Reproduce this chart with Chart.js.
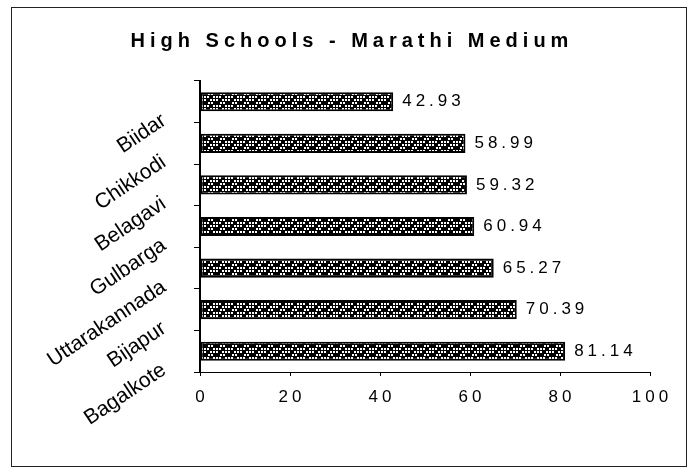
<!DOCTYPE html>
<html><head><meta charset="utf-8">
<script src="https://cdn.jsdelivr.net/npm/chart.js@4"></script>
<style>html,body{margin:0;padding:0;background:#fff}</style>
</head><body>
<canvas id="c" width="696" height="469"></canvas>
<script>
const titleText = 'High Schools - Marathi Medium';
const categories = ['Biidar', 'Chikkodi', 'Belagavi', 'Gulbarga', 'Uttarakannada', 'Bijapur', 'Bagalkote'];
const values = [42.93, 58.99, 59.32, 60.94, 65.27, 70.39, 81.14];
const xTicks = [0, 20, 40, 60, 80, 100];

const canvas = document.getElementById('c');

function makePattern() {
  const cells = ['1011', '0110', '1101'];
  const t = document.createElement('canvas');
  t.width = 12; t.height = 9;
  const g = t.getContext('2d');
  g.fillStyle = '#000'; g.fillRect(0, 0, 12, 9);
  g.fillStyle = '#fff';
  cells.forEach((r, y) => [...r].forEach((c, x) => {
    if (c === '1') g.fillRect(x * 3 + (y % 2), y * 3, 2, 2);
  }));
  return canvas.getContext('2d').createPattern(t, 'repeat');
}

const deco = {
  id: 'deco',
  beforeDraw(chart) {
    const ctx = chart.ctx;
    ctx.save();
    ctx.fillStyle = '#fff';
    ctx.fillRect(0, 0, chart.width, chart.height);
    ctx.strokeStyle = '#222';
    ctx.lineWidth = 1;
    ctx.strokeRect(11.5, 7.5, 675, 459);
    ctx.fillStyle = '#000';
    ctx.font = 'bold 20px "Liberation Sans", Arial, sans-serif';
    ctx.letterSpacing = '5px';
    ctx.textAlign = 'center';
    ctx.textBaseline = 'middle';
    ctx.fillText(titleText, 352, 41);
    ctx.restore();
  },
  afterDatasetsDraw(chart) {
    const ctx = chart.ctx;
    ctx.save();
    ctx.fillStyle = '#000';
    ctx.font = '17px "Liberation Sans", Arial, sans-serif';
    ctx.letterSpacing = '4px';
    ctx.textBaseline = 'middle';
    ctx.textAlign = 'left';
    const meta = chart.getDatasetMeta(0);
    meta.data.forEach((el, i) => {
      ctx.fillText(values[i].toFixed(2), el.x + 9, el.y);
    });
    ctx.textAlign = 'center';
    const xs = chart.scales.x;
    xTicks.forEach(v => {
      ctx.fillText(String(v), xs.getPixelForValue(v) + 2, 397);
    });
    ctx.restore();
  }
};

new Chart(canvas, {
  type: 'bar',
  data: {
    labels: categories,
    datasets: [{
      data: values,
      backgroundColor: makePattern(),
      borderColor: '#000',
      borderWidth: 2,
      borderSkipped: false,
      barPercentage: 0.46,
      categoryPercentage: 1
    }]
  },
  options: {
    indexAxis: 'y',
    responsive: false,
    animation: false,
    devicePixelRatio: 1,
    layout: { padding: { top: 81, right: 46, left: 0, bottom: 0 } },
    plugins: { legend: { display: false }, title: { display: false }, tooltip: { enabled: false } },
    scales: {
      x: {
        min: 0, max: 100,
        ticks: { display: false, stepSize: 20 },
        grid: { display: true, drawOnChartArea: false, tickLength: 4, color: '#000' },
        border: { display: true, color: '#000', width: 1 },
        afterFit(s) { s.height = 97; }
      },
      y: {
        ticks: {
          color: '#000',
          font: { family: '"Liberation Sans", Arial, sans-serif', size: 21 },
          minRotation: 34, maxRotation: 34,
          padding: 30, labelOffset: 17
        },
        grid: { display: true, drawOnChartArea: false, tickLength: 6, color: '#000', offset: true },
        border: { display: true, color: '#000', width: 2 },
        afterFit(s) { s.width = 200; }
      }
    }
  },
  plugins: [deco]
});
</script>
</body></html>
